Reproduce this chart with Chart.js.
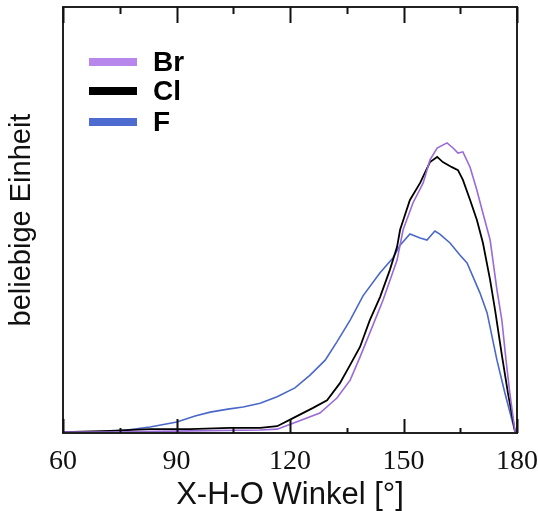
<!DOCTYPE html>
<html>
<head>
<meta charset="utf-8">
<script src="https://cdn.jsdelivr.net/npm/chart.js@4.4.1/dist/chart.umd.min.js"></script>
<style>
  html, body { margin: 0; padding: 0; background: #ffffff; }
  #wrap { width: 538px; height: 511px; position: relative; }
</style>
</head>
<body>
<div id="wrap"><canvas id="c" width="538" height="511"></canvas></div>
<script>
// ---- data ----
const seriesLabels = ['Br', 'Cl', 'F'];

const brPoints = [
  [60, 0.2], [72.4, 0.2], [93.6, 0.5], [112.1, 0.7], [116.6, 0.9], [120.8, 2.3],
  [127.9, 4.7], [132.4, 8.2], [135.9, 12.4], [138.5, 17.8], [141.1, 23.5],
  [144.6, 31.2], [148.3, 40.6], [149.9, 47.7], [152.5, 54.0], [155.2, 58.7],
  [157.0, 64.1], [158.9, 66.9], [161.5, 68.1], [163.1, 66.9], [164.4, 65.7],
  [165.7, 66.0], [167.6, 62.4], [169.4, 57.0], [171.0, 51.6], [172.9, 45.3],
  [174.7, 33.6], [176.0, 26.5], [177.1, 17.1], [178.1, 9.4], [179.5, 0.2]
];

const clPoints = [
  [60, 0.2], [72.4, 0.5], [83.0, 0.9], [93.6, 0.9], [104.1, 1.2], [112.1, 1.2],
  [116.6, 1.6], [120.8, 3.5], [126.1, 5.9], [129.8, 7.7], [133.2, 11.7],
  [135.9, 16.0], [138.5, 20.2], [141.1, 26.5], [143.8, 31.9], [146.4, 38.3],
  [148.3, 43.7], [149.1, 47.7], [151.7, 54.7], [154.4, 58.7], [157.0, 63.6],
  [158.9, 64.8], [160.4, 63.6], [162.8, 62.4], [164.4, 61.7], [165.7, 59.4],
  [167.6, 54.7], [169.4, 50.0], [171.0, 44.6], [172.9, 35.9], [174.2, 28.9],
  [176.0, 18.3], [177.6, 9.4], [179.5, 0.2]
];

const fPoints = [
  [69.8, 0.2], [76.9, 0.7], [83.0, 1.4], [90.1, 2.6], [94.9, 4.0], [98.9, 4.9],
  [103.6, 5.6], [107.6, 6.1], [112.1, 7.0], [116.6, 8.5], [121.3, 10.6],
  [125.3, 13.6], [129.3, 17.1], [132.4, 21.4], [135.9, 26.5], [139.3, 32.2],
  [143.8, 37.6], [147.2, 41.1], [149.1, 44.1], [151.7, 46.7], [154.4, 45.8],
  [156.2, 45.3], [158.3, 47.4], [159.6, 46.7], [162.3, 44.6], [164.9, 41.8],
  [166.8, 39.9], [170.2, 32.9], [172.1, 28.2], [174.7, 17.1], [176.8, 9.4],
  [179.5, 0.2]
];

const xTickLabels = [60, 90, 120, 150, 180];
const xMinorTicks = [75, 105, 135, 165];

// ---- styles ----
const lineColors = ['#9a6ad8', '#000000', '#4a68c8'];
const legendColors = ['#b887ec', '#000000', '#4e6cd0'];

const toXY = pts => pts.map(p => ({ x: p[0], y: p[1] }));

const framePlugin = {
  id: 'frame',
  afterDatasetsDraw(chart) {
    const { ctx, chartArea: a, scales } = chart;
    const xs = scales.x;
    ctx.save();
    ctx.strokeStyle = '#222';
    ctx.lineWidth = 2;
    ctx.strokeRect(a.left, a.top, a.right - a.left, a.bottom - a.top);
    ctx.lineWidth = 2;
    ctx.strokeStyle = '#111';
    const drawTick = (v, lenBottom, lenTop) => {
      const px = Math.round(xs.getPixelForValue(v)) + 0.5;
      ctx.beginPath();
      ctx.moveTo(px, a.bottom); ctx.lineTo(px, a.bottom - lenBottom);
      ctx.moveTo(px, a.top); ctx.lineTo(px, a.top + lenTop);
      ctx.stroke();
    };
    xTickLabels.forEach(v => drawTick(v, 14, 16));
    xMinorTicks.forEach(v => drawTick(v, 5, 7));
    // legend
    ctx.textBaseline = 'middle';
    ctx.font = 'bold 28px "Liberation Sans", Arial, sans-serif';
    const rowsY = [62, 91, 122];
    seriesLabels.forEach((lab, i) => {
      ctx.fillStyle = legendColors[i];
      ctx.fillRect(89, rowsY[i] - 4, 48, 8);
      ctx.fillStyle = '#000';
      ctx.fillText(lab, 153, rowsY[i] + 1);
    });
    ctx.restore();
  }
};

new Chart(document.getElementById('c'), {
  type: 'line',
  data: {
    datasets: [
      { label: seriesLabels[0], data: toXY(brPoints), borderColor: lineColors[0], borderWidth: 1.6 },
      { label: seriesLabels[1], data: toXY(clPoints), borderColor: lineColors[1], borderWidth: 1.8 },
      { label: seriesLabels[2], data: toXY(fPoints), borderColor: lineColors[2], borderWidth: 1.6 }
    ]
  },
  options: {
    responsive: false,
    animation: false,
    devicePixelRatio: 1,
    layout: { padding: { top: 7, right: 21, left: 0, bottom: 0 } },
    elements: { point: { radius: 0 }, line: { tension: 0 } },
    plugins: { legend: { display: false }, tooltip: { enabled: false } },
    scales: {
      x: {
        type: 'linear',
        min: 60, max: 180,
        afterFit(s) { s.height = 78; s.paddingLeft = 0; s.paddingRight = 0; },
        afterBuildTicks(s) { s.ticks = xTickLabels.map(v => ({ value: v })); },
        ticks: {
          color: '#111',
          padding: 12,
          font: { family: '"Liberation Serif", "Times New Roman", serif', size: 28 },
          maxRotation: 0
        },
        grid: { display: false, drawTicks: false },
        border: { display: false },
        title: {
          display: true,
          text: 'X-H-O Winkel [°]',
          color: '#111',
          font: { family: '"Liberation Sans", Arial, sans-serif', size: 31, lineHeight: 1.0 },
          padding: { top: 0, bottom: 0 }
        }
      },
      y: {
        type: 'linear',
        min: 0, max: 100,
        afterFit(s) { s.width = 63; s.paddingTop = 0; s.paddingBottom = 0; },
        ticks: { display: false },
        grid: { display: false, drawTicks: false },
        border: { display: false },
        title: {
          display: true,
          text: 'beliebige Einheit',
          color: '#111',
          font: { family: '"Liberation Sans", Arial, sans-serif', size: 29 },
          padding: { top: 5, bottom: 0 }
        }
      }
    }
  },
  plugins: [framePlugin]
});
</script>
</body>
</html>
